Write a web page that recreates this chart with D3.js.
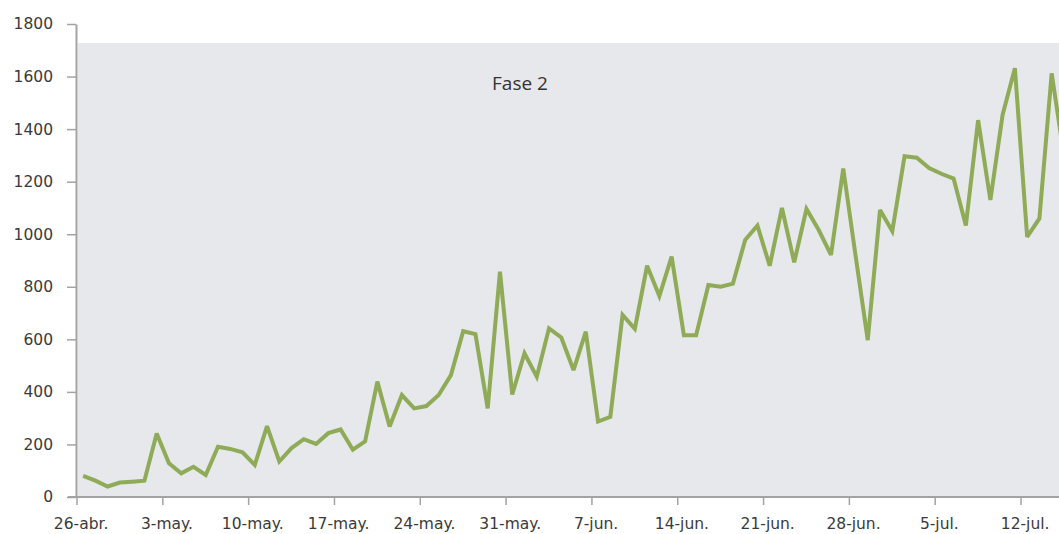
<!DOCTYPE html>
<html>
<head>
<meta charset="utf-8">
<script src="https://cdn.jsdelivr.net/npm/d3@7"></script>
<style>
  html, body { margin: 0; padding: 0; background: #fff; overflow: hidden; }
  svg { display: block; }
</style>
</head>
<body>
<svg id="chart" width="1059" height="534"></svg>
<script>
// ---- data ----
const startDate = new Date(2020, 3, 26); // 26-abr.
const values = [
  80, 62, 40, 55, 58, 62, 242, 128, 90, 115,
  84, 191, 183, 170, 122, 270, 135, 186, 220, 202,
  243, 257, 180, 212, 439, 268, 388, 337, 346, 388,
  464, 631, 620, 337, 857, 390, 547, 458, 642, 607,
  483, 629, 287, 305, 693, 640, 880, 765, 915, 616,
  616, 807, 800, 812, 978, 1033, 880, 1100, 893, 1096,
  1016, 921, 1250, 920, 597, 1092, 1012, 1297, 1291, 1252,
  1230, 1212, 1033, 1434, 1130, 1455, 1632, 990, 1060, 1612,
  1300
];
const categories = d3.timeDay.range(startDate, d3.timeDay.offset(startDate, values.length));
const tickLabels = ["26-abr.", "3-may.", "10-may.", "17-may.", "24-may.", "31-may.",
                    "7-jun.", "14-jun.", "21-jun.", "28-jun.", "5-jul.", "12-jul."];
const yTicks = [0, 200, 400, 600, 800, 1000, 1200, 1400, 1600, 1800];
const annotation = "Fase 2";

// ---- layout ----
const svg = d3.select("#chart");
const plotLeft = 77, plotBottom = 497, plotTop = 24;
const step = 12.26;

const x = d3.scaleBand()
  .domain(categories.map(d => +d))
  .range([plotLeft, plotLeft + step * categories.length])
  .paddingInner(0).paddingOuter(0);

const y = d3.scaleLinear().domain([0, 1800]).range([plotBottom, plotTop]);

// plot background
svg.append("rect")
  .attr("x", plotLeft + 1)
  .attr("y", 43)
  .attr("width", 1059 - plotLeft)
  .attr("height", plotBottom - 43)
  .attr("fill", "#e6e8eb");

// y axis
const yAxis = d3.axisLeft(y)
  .tickValues(yTicks)
  .tickSize(9)
  .tickSizeOuter(0)
  .tickPadding(14)
  .tickFormat(d3.format("d"));
const gy = svg.append("g").attr("transform", `translate(${plotLeft - 1},0)`).call(yAxis);
gy.select(".domain").attr("stroke", "#a3a3a3").attr("stroke-width", 2);
gy.selectAll(".tick line").attr("stroke", "#a3a3a3").attr("stroke-width", 1.5);
gy.selectAll(".tick text")
  .attr("fill", "#3a3a3a")
  .style("font-family", "'DejaVu Sans', Verdana, sans-serif")
  .style("font-size", "15.5px");

// x axis
const tickDates = categories.filter((d, i) => i % 7 === 0);
const gx = svg.append("g").attr("class", "xaxis");
gx.append("line")
  .attr("x1", plotLeft - 9).attr("x2", 1059)
  .attr("y1", plotBottom).attr("y2", plotBottom)
  .attr("stroke", "#a3a3a3").attr("stroke-width", 2);
gx.selectAll("line.tk").data(tickDates).enter().append("line")
  .attr("class", "tk")
  .attr("x1", d => x(+d)).attr("x2", d => x(+d))
  .attr("y1", plotBottom).attr("y2", plotBottom + 8)
  .attr("stroke", "#a3a3a3").attr("stroke-width", 1.5);
gx.selectAll("text").data(tickDates).enter().append("text")
  .attr("x", d => x(+d) + x.bandwidth() / 2 - 2)
  .attr("y", 529)
  .attr("text-anchor", "middle")
  .attr("fill", "#3a3a3a")
  .style("font-family", "'DejaVu Sans', Verdana, sans-serif")
  .style("font-size", "15.5px")
  .text((d, i) => tickLabels[i]);

// line
const line = d3.line()
  .x((d, i) => x(+categories[i]) + x.bandwidth() / 2)
  .y(d => y(d));
svg.append("path")
  .datum(values)
  .attr("fill", "none")
  .attr("stroke", "#8fab57")
  .attr("stroke-width", 4)
  .attr("stroke-linejoin", "miter")
  .attr("stroke-miterlimit", 3)
  .attr("d", line);

// annotation
svg.append("text")
  .attr("x", 520)
  .attr("y", 90)
  .attr("text-anchor", "middle")
  .attr("fill", "#333")
  .style("font-family", "'Open Sans', sans-serif")
  .style("font-size", "19px")
  .text(annotation);
</script>
</body>
</html>
